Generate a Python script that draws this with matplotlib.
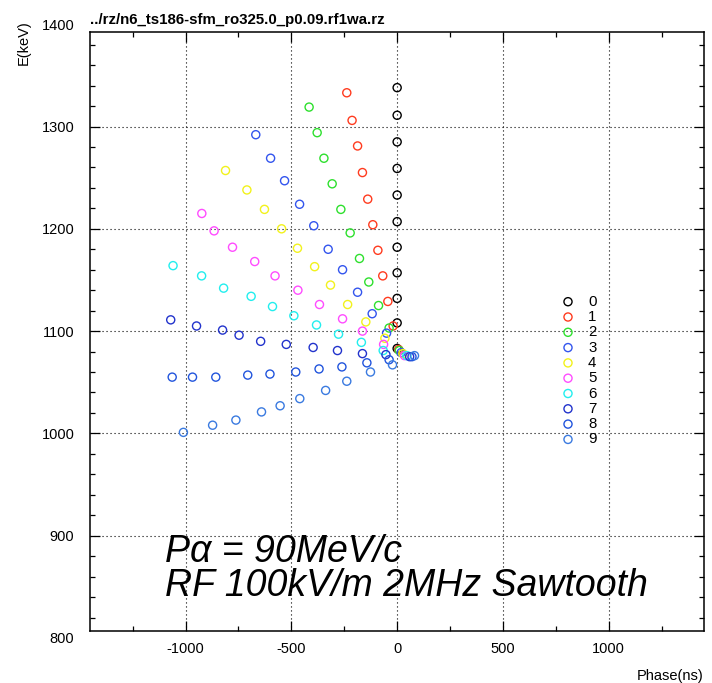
import matplotlib
matplotlib.use('Agg')
import matplotlib.pyplot as plt
from matplotlib.ticker import MultipleLocator, FixedLocator

plt.rcParams['font.family'] = ['Liberation Sans', 'DejaVu Sans']
plt.rcParams['axes.unicode_minus'] = False

# ---------------- data ----------------
series_labels = ['0', '1', '2', '3', '4', '5', '6', '7', '8', '9']
series_colors = ['#000000', '#ff3b1f', '#2ee02e', '#3355ee', '#f2f21c',
                 '#ff4cff', '#22eeee', '#2233cc', '#2255dd', '#3a7ae0']

phase_s0 = [0, 0, 0, 0, 0, 0, 0, 0, 0, 0, 0]
energy_s0 = [1338, 1311, 1285, 1259, 1233, 1207, 1182, 1157, 1132, 1108, 1083]

phase_s1 = [-238, -213, -187, -164, -139, -115, -91, -68, -44, -19, 7]
energy_s1 = [1333, 1306, 1281, 1255, 1229, 1204, 1179, 1154, 1129, 1105, 1082]

phase_s2 = [-416, -378, -346, -307, -266, -222, -178, -134, -88, -38, 10]
energy_s2 = [1319, 1294, 1269, 1244, 1219, 1196, 1171, 1148, 1125, 1103, 1081]

phase_s3 = [-668, -598, -532, -461, -394, -326, -258, -187, -118, -50, 19]
energy_s3 = [1292, 1269, 1247, 1224, 1203, 1180, 1160, 1138, 1117, 1098, 1079]

phase_s4 = [-811, -710, -627, -546, -471, -390, -315, -234, -148, -58, 27]
energy_s4 = [1257, 1238, 1219, 1200, 1181, 1163, 1145, 1126, 1109, 1093, 1078]

phase_s5 = [-923, -865, -778, -673, -577, -469, -367, -258, -164, -64, 35]
energy_s5 = [1215, 1198, 1182, 1168, 1154, 1140, 1126, 1112, 1100, 1087, 1076]

phase_s6 = [-1059, -924, -820, -690, -589, -488, -381, -277, -169, -66, 46]
energy_s6 = [1164, 1154, 1142, 1134, 1124, 1115, 1106, 1097, 1089, 1081, 1076]

phase_s7 = [-1070, -948, -825, -747, -645, -524, -397, -282, -164, -53, 59]
energy_s7 = [1111, 1105, 1101, 1096, 1090, 1087, 1084, 1081, 1078, 1077, 1075]

phase_s8 = [-1063, -967, -857, -706, -601, -479, -369, -261, -143, -38, 70]
energy_s8 = [1055, 1055, 1055, 1057, 1058, 1060, 1063, 1065, 1069, 1072, 1075]

phase_s9 = [-1010, -872, -762, -641, -553, -460, -338, -238, -126, -22, 82]
energy_s9 = [1001, 1008, 1013, 1021, 1027, 1034, 1042, 1051, 1060, 1067, 1076]

phases = [phase_s0, phase_s1, phase_s2, phase_s3, phase_s4,
          phase_s5, phase_s6, phase_s7, phase_s8, phase_s9]
energies = [energy_s0, energy_s1, energy_s2, energy_s3, energy_s4,
            energy_s5, energy_s6, energy_s7, energy_s8, energy_s9]

x_major = [-1000, -500, 0, 500, 1000]
y_major = [800, 900, 1000, 1100, 1200, 1300, 1400]

title_text = '../rz/n6_ts186-sfm_ro325.0_p0.09.rf1wa.rz'
xlabel_text = 'Phase(ns)'
ylabel_text = 'E(keV)'
note_line1 = 'P\u03b1 = 90MeV/c'
note_line2 = 'RF 100kV/m 2MHz Sawtooth'

# ---------------- figure ----------------
W, H = 712, 683
fig = plt.figure(figsize=(W / 100, H / 100), dpi=100)
ax_l, ax_r, ax_t, ax_b = 90.3, 704.0, 31.7, 630.5
ax = fig.add_axes([ax_l / W, 1 - ax_b / H, (ax_r - ax_l) / W, (ax_b - ax_t) / H])
ax.set_xlim(-1450, 1450)
ax.set_ylim(807.3, 1392.7)

grid_kw = dict(color='black', linewidth=0.8, linestyle=(0, (1.0, 2.6)), zorder=1)
for xv in x_major:
    ax.axvline(xv, **grid_kw)
for yv in y_major:
    if ax.get_ylim()[0] < yv < ax.get_ylim()[1]:
        ax.axhline(yv, **grid_kw)

for ph, en, col in zip(phases, energies, series_colors):
    ax.scatter(ph, en, s=34, facecolors='none', edgecolors=col,
               linewidths=1.0, zorder=3)

# ticks
ax.xaxis.set_major_locator(FixedLocator(x_major))
ax.xaxis.set_minor_locator(MultipleLocator(250))
ax.yaxis.set_major_locator(FixedLocator(y_major))
ax.yaxis.set_minor_locator(MultipleLocator(20))
ax.tick_params(which='both', direction='in', top=True, right=True,
               width=0.9, colors='black', labelsize=10.5)
ax.tick_params(which='major', length=7.5)
ax.tick_params(which='minor', length=3.5)
ax.tick_params(axis='y', which='major', pad=11.5)
ax.tick_params(axis='x', which='major', pad=8.5)
for sp in ax.spines.values():
    sp.set_linewidth(1.1)

# edge labels that sit just outside the frame (as in the reference)
ytr = ax.get_yaxis_transform()
for yv in (800, 1400):
    ax.annotate(str(yv), xy=(0, yv), xycoords=ytr, xytext=(-11.5, 0),
                textcoords='offset points', ha='right', va='center_baseline',
                fontsize=10.5, annotation_clip=False)

# axis titles
fig.text(704 / W, 1 - 676 / H, xlabel_text, ha='right', va='center', fontsize=10.5)
fig.text(24 / W, 1 - 20 / H, ylabel_text, ha='center', va='top',
         rotation=90, fontsize=10.5)

# title
fig.text(90 / W, 1 - 24 / H, title_text, ha='left', va='baseline',
         fontsize=10.8, fontweight='bold')

# annotation text
fig.text(165 / W, 1 - 562 / H, note_line1, ha='left', va='baseline',
         fontsize=27, style='italic')
fig.text(165 / W, 1 - 596 / H, note_line2, ha='left', va='baseline',
         fontsize=27, style='italic')

# legend (manual, ROOT-like)
leg_x = (568 - ax_l) / (ax_r - ax_l)
leg_y0 = (ax_b - 301.7) / (ax_b - ax_t)
leg_dy = 15.3 / (ax_b - ax_t)
for i, (lab, col) in enumerate(zip(series_labels, series_colors)):
    yy = leg_y0 - i * leg_dy
    ax.scatter([leg_x], [yy], s=34, facecolors='none', edgecolors=col,
               linewidths=1.0, transform=ax.transAxes, zorder=4, clip_on=False)
    ax.text(leg_x + 20 / (ax_r - ax_l), yy, lab, transform=ax.transAxes,
            ha='left', va='center', fontsize=10.8, zorder=4)

fig.savefig('out.png', dpi=100)
